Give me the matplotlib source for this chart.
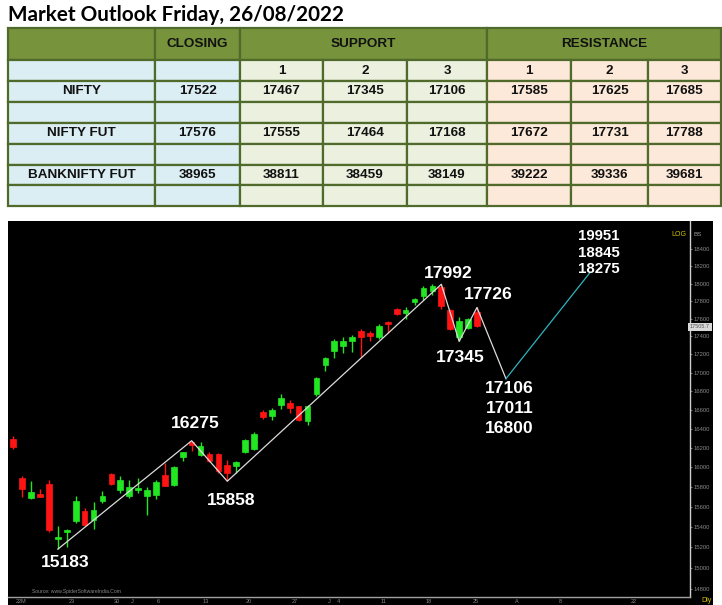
import numpy as np
import matplotlib
matplotlib.use("Agg")
import matplotlib.pyplot as plt
import matplotlib.ticker as mticker
import matplotlib.transforms as mtransforms
from matplotlib.patches import Rectangle

plt.rcParams["font.family"] = ["Liberation Sans", "DejaVu Sans"]

# -------------------------------------------
################ DATA ################

title = "Market Outlook Friday, 26/08/2022"

row_names = ["NIFTY", "NIFTY FUT", "BANKNIFTY FUT"]
closing = [17522, 17576, 38965]
support = [[17467, 17345, 17106], [17555, 17464, 17168], [38811, 38459, 38149]]
resistance = [[17585, 17625, 17685], [17672, 17731, 17788], [39222, 39336, 39681]]

# daily candles (NIFTY spot)
opens = [16295, 15891, 15685, 15732, 15833, 15285, 15354, 15462, 15555, 15465,
         15659, 15935, 15772, 15705, 15772, 15712, 15719, 15925, 15820, 16105,
         16265, 16129, 16140, 16137, 16027, 16017, 16160, 16191, 16577, 16530,
         16654, 16672, 16637, 16484, 16769, 17087, 17243, 17295, 17354, 17465,
         17436, 17399, 17563, 17707, 17662, 17790, 17858, 17915, 17965, 17692,
         17399, 17496, 17669]
highs = [16320, 15915, 15864, 15779, 15874, 15413, 15381, 15712, 15592, 15645,
         15755, 15942, 15908, 15874, 15891, 15800, 15874, 16044, 16017, 16163,
         16275, 16257, 16153, 16147, 16078, 16068, 16292, 16362, 16594, 16619,
         16769, 16708, 16644, 16654, 16952, 17170, 17369, 17399, 17418, 17481,
         17465, 17537, 17570, 17718, 17730, 17839, 17972, 17990, 17992, 17707,
         17617, 17608, 17726]
lows = [16188, 15699, 15679, 15697, 15347, 15183, 15205, 15440, 15406, 15381,
        15639, 15823, 15739, 15689, 15739, 15519, 15679, 15806, 15813, 16060,
        16165, 16112, 16057, 15942, 15858, 15942, 16147, 16181, 16502, 16488,
        16608, 16566, 16477, 16442, 16751, 17024, 17159, 17221, 17232, 17170,
        17354, 17369, 17443, 17643, 17597, 17758, 17812, 17869, 17707, 17473,
        17345, 17484, 17505]
closes = [16209, 15779, 15745, 15699, 15367, 15305, 15367, 15655, 15423, 15565,
          15712, 15833, 15867, 15800, 15785, 15765, 15846, 15813, 16003, 16153,
          16230, 16222, 16060, 15959, 15942, 16058, 16285, 16348, 16524, 16601,
          16726, 16619, 16488, 16644, 16941, 17159, 17354, 17354, 17399, 17392,
          17406, 17518, 17541, 17654, 17699, 17820, 17953, 17976, 17744, 17481,
          17578, 17590, 17522]

# swing points (candle index, price) and projected path
pivot_idx = [5, 20, 24, 48, 50, 52, 55.25]
pivot_px = [15183, 16275, 15858, 17992, 17345, 17726, 16935]
proj_idx = [55.25, 64.7]
proj_px = [16935, 18130]

swing_labels = ["15183", "16275", "15858", "17992", "17345", "17726"]
low_targets = ["17106", "17011", "16800"]
high_targets = ["19951", "18845", "18275"]

last_price = 17505.7

price_ticks = list(range(14800, 18600, 200))
date_tick_pos = [0.9, 6.6, 11.6, 13.3, 16.2, 21.6, 26.4, 31.6, 35.4, 36.5,
                 41.5, 46.6, 51.8, 56.5, 61.4, 69.6]
date_tick_lab = ["22M", "23", "30", "J", "6", "13", "20", "27", "J", "4",
                 "11", "18", "25", "A", "8", "22"]


# -------------------------------------------
################ PLOT TABLE ################

W, H = 722, 605
fig = plt.figure(figsize=(W / 100, H / 100), dpi=100, facecolor="white")

ax_t = fig.add_axes([0, 0, 1, 1])
ax_t.set_xlim(0, W)
ax_t.set_ylim(H, 0)
ax_t.axis("off")

ax_t.text(8, 20.7, title, fontsize=14.9, fontweight="bold", family=["Lato", "DejaVu Sans"],
          va="baseline", ha="left", color="black")

col_x = [8, 155, 240, 323, 407, 487, 571, 648, 721]
row_y = [28, 60, 81, 102, 123, 144, 165, 185, 206]

border = "#4f6a2a"
header_fill = "#77933c"
blue_fill = "#dbeef4"
green_fill = "#ebf1de"
peach_fill = "#fde9d9"
col_fill = [blue_fill, blue_fill, green_fill, green_fill, green_fill,
            peach_fill, peach_fill, peach_fill]

cell_font = dict(fontsize=9.7, fontweight="bold", ha="center", va="center", color="#111111")


def cell(x0, x1, y0, y1, fc):
    ax_t.add_patch(Rectangle((x0, y0), x1 - x0, y1 - y0, facecolor=fc,
                             edgecolor=border, linewidth=1.6))


# header row
cell(col_x[0], col_x[1], row_y[0], row_y[1], header_fill)
cell(col_x[1], col_x[2], row_y[0], row_y[1], header_fill)
cell(col_x[2], col_x[5], row_y[0], row_y[1], header_fill)
cell(col_x[5], col_x[8], row_y[0], row_y[1], header_fill)
hy = (row_y[0] + row_y[1]) / 2
ax_t.text((col_x[1] + col_x[2]) / 2, hy, "CLOSING", **cell_font)
ax_t.text((col_x[2] + col_x[5]) / 2, hy, "SUPPORT", **cell_font)
ax_t.text((col_x[5] + col_x[8]) / 2, hy, "RESISTANCE", **cell_font)

# body rows
for r in range(1, len(row_y) - 1):
    for c in range(len(col_x) - 1):
        cell(col_x[c], col_x[c + 1], row_y[r], row_y[r + 1], col_fill[c])

cy = (row_y[1] + row_y[2]) / 2
for c in range(2, 8):
    ax_t.text((col_x[c] + col_x[c + 1]) / 2, cy, str((c - 2) % 3 + 1), **cell_font)

for i, name in enumerate(row_names):
    r = 2 + 2 * i
    cy = (row_y[r] + row_y[r + 1]) / 2
    vals = [name, closing[i]] + support[i] + resistance[i]
    for c, v in enumerate(vals):
        ax_t.text((col_x[c] + col_x[c + 1]) / 2, cy, str(v), **cell_font)


# -------------------------------------------
################ PLOT CHART ################

# black panel behind the chart
ax_t.add_patch(Rectangle((8.3, 221), 712.7 - 8.3, H - 221, facecolor="black", edgecolor="none"))

px_left, px_right, px_top, px_bot = 8.3, 690, 221, 597
ax = fig.add_axes([px_left / W, (H - px_bot) / H, (px_right - px_left) / W, (px_bot - px_top) / H])
ax.set_facecolor("black")
ax.set_yscale("log")
ax.set_xlim(-0.561, 75.89)
ax.set_ylim(14724, 18736)

up_col, dn_col = "#22e622", "#ff1414"
idx = np.arange(len(opens))
o, h, l, c = map(np.array, (opens, highs, lows, closes))
cols = np.where(c >= o, up_col, dn_col)
ax.vlines(idx, l, h, colors=cols, linewidth=1.0, zorder=2)
ax.bar(idx, np.abs(c - o), bottom=np.minimum(o, c), width=0.64, color=cols,
       edgecolor=cols, linewidth=0.5, zorder=3)

# swing line and projection
ax.plot(pivot_idx, pivot_px, color="#dcdcdc", linewidth=0.9, zorder=4)
ax.plot(proj_idx, proj_px, color="#2fb3c0", linewidth=0.9, zorder=4)

lab_font = dict(color="white", fontsize=12.6, fontweight="bold", ha="center", va="center",
                textcoords="offset pixels", zorder=5)
swing_offsets = [(7, -13), (4, 17), (4, -19), (7, 11), (1, -16), (11, 13)]
for k, txt in enumerate(swing_labels):
    ax.annotate(txt, (pivot_idx[k], pivot_px[k]), xytext=swing_offsets[k], **lab_font)

for k, txt in enumerate(low_targets):
    ax.annotate(txt, (proj_idx[0], proj_px[0]), xytext=(3.5, -10 - 20 * k), **lab_font)

small_font = dict(lab_font, fontsize=10.8)
for k, txt in enumerate(high_targets):
    ax.annotate(txt, (proj_idx[1], proj_px[1]), xytext=(9, 36 - 16.5 * k), **small_font)

# axes styling
for s in ("top", "left"):
    ax.spines[s].set_visible(False)
ax.spines["right"].set_color("#d0d0d0")
ax.spines["bottom"].set_color("#a0a0a0")
ax.spines["right"].set_linewidth(1.0)
ax.spines["bottom"].set_linewidth(1.0)

ax.yaxis.tick_right()
ax.set_yticks(price_ticks)
ax.set_yticklabels([str(v) for v in price_ticks])
ax.yaxis.set_minor_locator(mticker.NullLocator())
ax.tick_params(axis="y", colors="#8a8a8a", labelsize=4.2, length=1.5, width=0.6, pad=1)

ax.set_xticks(date_tick_pos)
ax.set_xticklabels(date_tick_lab)
ax.tick_params(axis="x", colors="#8a8a8a", labelsize=4, length=0, pad=1.2)

# last traded price box
trans = mtransforms.blended_transform_factory(ax.transAxes, ax.transData)
ax.text(1.0, last_price, f"{last_price:.1f}", transform=trans, fontsize=4, color="#555555",
        ha="left", va="center", clip_on=False,
        bbox=dict(boxstyle="square,pad=0.3", facecolor="#d8d8d8", edgecolor="none"))

ax.text(0.035, 0.008, "Source: www.SpiderSoftwareIndia.Com", transform=ax.transAxes,
        fontsize=3.6, color="#8a8a8a", ha="left", va="bottom")
fig.text(679 / W, 1 - 234 / H, "LOG", fontsize=5, color="#d8c400", ha="center", va="center")
fig.text(698 / W, 1 - 234 / H, "BS", fontsize=4.5, color="#9a9a9a", ha="center", va="center")
fig.text(707 / W, 1 - 601 / H, "Dly", fontsize=5, color="#d8c400", ha="center", va="center")

fig.savefig("out.png", dpi=100, facecolor="white")
